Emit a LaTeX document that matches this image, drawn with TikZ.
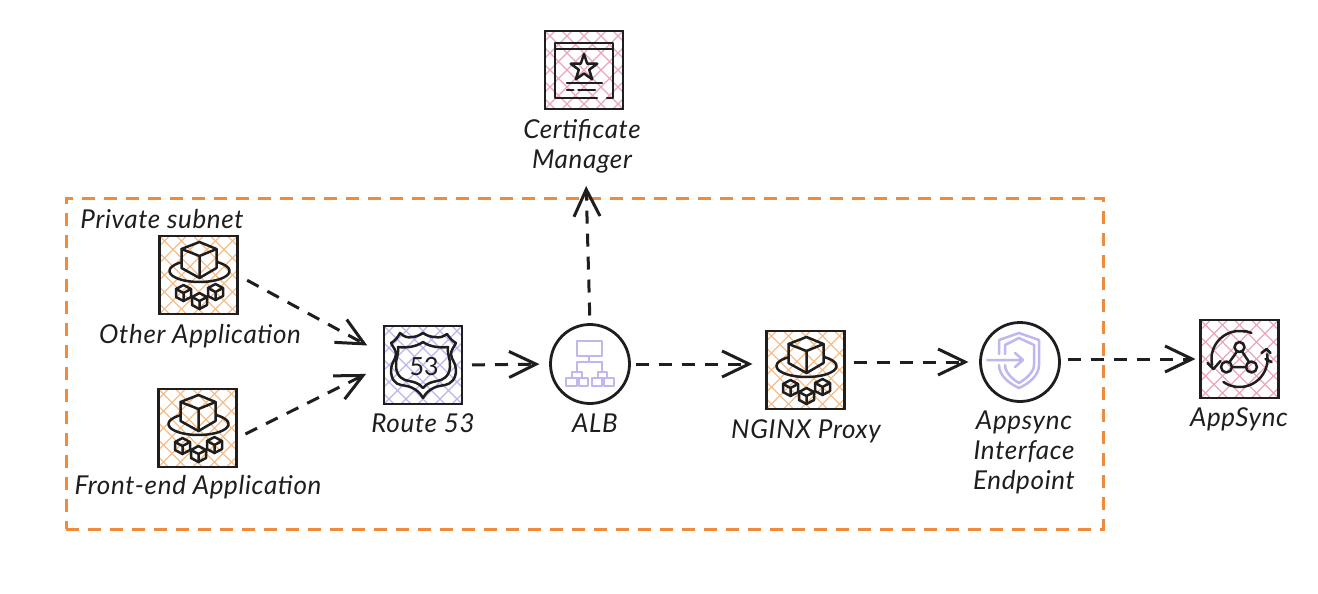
\documentclass[tikz,border=0pt]{standalone}
\usepackage{fontspec}
\setmainfont{Lato}[ItalicFeatures={LetterSpace=2.5}]
\usetikzlibrary{arrows.meta,calc}
\definecolor{ink}{HTML}{1E1E1E}
\definecolor{hatchorange}{HTML}{F6BE8A}
\definecolor{hatchpink}{HTML}{E9A6BD}
\definecolor{hatchpurple}{HTML}{BDB4EE}
\definecolor{subnetorange}{HTML}{EF8B3A}
\definecolor{iconpurple}{HTML}{C2B6EE}
\tikzset{
  x=1pt,y=-1pt,
  awsbox/.style={draw=ink,line width=2.95pt,minimum size=78pt,inner sep=0pt,outer sep=0pt,
    path picture={\begin{scope}[shift={(path picture bounding box.center)},draw=#1,line width=1.2pt]
      \foreach \i in {-102,-85,...,102}{
        \draw (\i-45,-45)--(\i+45,45);
        \draw (\i-45,45)--(\i+45,-45);
      }\end{scope}}},
  roundbox/.style={draw=ink,line width=2.8pt,circle,minimum size=79pt,inner sep=0pt,outer sep=0pt},
  lbl/.style={font=\fontsize{26}{30}\selectfont\itshape,align=center,inner sep=0pt,text=ink},
  flow/.style={draw=ink,line width=3pt,dash pattern=on 13pt off 10pt,
    -{Straight Barb[length=27pt,width=26pt,line width=3pt]}},
  iconline/.style={draw=ink,line width=2.5pt,line join=round,line cap=round},
  purpleline/.style={draw=iconpurple,line width=2.5pt,line join=round,line cap=round},
  smallcube/.pic={
    \draw[iconline] (0,-8)--(7.5,-4)--(7.5,4)--(0,8)--(-7.5,4)--(-7.5,-4)--cycle;
    \draw[iconline] (-7.5,-4)--(0,0)--(7.5,-4) (0,0)--(0,8);
  },
  appicon/.pic={
    \draw[iconline] plot[smooth,samples=30,domain=-53:233] ({1+30*cos(\x)},{-4+11*sin(\x)});
    \draw[iconline] (1,-33)--(18,-26)--(18,-7)--(1,3)--(-17,-7)--(-17,-26)--cycle;
    \draw[iconline] (-17,-26)--(1,-19)--(18,-26) (1,-19)--(1,3);
    \pic at (-15,18) {smallcube};
    \pic at (17,17) {smallcube};
    \pic at (1,26) {smallcube};
  },
  certicon/.pic={
    \draw[iconline] (13,28)--(-29,28)--(-29,-27)--(29,-27)--(29,28)--(23,28);
    \draw[iconline] (-29,-21)--(29,-21);
    \draw[iconline] (0,-16)--(3.2,-6.4)--(13.3,-6.3)--(5.2,-0.3)--(8.2,9.3)--(0,3.5)--(-8.2,9.3)--(-5.2,-0.3)--(-13.3,-6.3)--(-3.2,-6.4)--cycle;
    \draw[iconline] (-17,13)--(18,13) (-17,20)--(-10.6,20) (-5.6,20)--(11,20);
  },
  shieldicon/.pic={
    \draw[iconline] (-32,-22) .. controls (-28,-24) and (-25,-28) .. (-23,-32) .. controls (-19,-28) and (-15,-27) .. (-11,-28) .. controls (-7,-28) and (-3,-30) .. (0,-32) .. controls (3,-30) and (7,-28) .. (12,-28) .. controls (16,-27) and (20,-28) .. (24,-31) .. controls (26,-28) and (29,-24) .. (33,-22) .. controls (31,-18) and (28,-15) .. (28,-11) .. controls (28,-6) and (33,-2) .. (33,5) .. controls (33,14) and (28,19) .. (22,20) .. controls (16,21) and (6,22) .. (0,33) .. controls (-6,22) and (-16,21) .. (-22,20) .. controls (-28,19) and (-32,14) .. (-32,5) .. controls (-32,-2) and (-27,-6) .. (-27,-11) .. controls (-27,-15) and (-30,-18) .. (-32,-22) -- cycle;
    \draw[iconline] (-25,-18) .. controls (-17,-17) and (-7,-18) .. (0,-23) .. controls (7,-18) and (17,-17) .. (25,-18) .. controls (24,-10) and (28,-5) .. (27,2) .. controls (26,12) and (20,15) .. (14,16) .. controls (9,17) and (4,18) .. (0,23) .. controls (-4,18) and (-9,17) .. (-14,16) .. controls (-20,15) and (-26,12) .. (-27,2) .. controls (-28,-5) and (-24,-10) .. (-25,-18) -- cycle;
    \node[inner sep=0pt,font=\fontsize{25}{25}\selectfont,text=ink] (shieldnum) at (1,2) {53};
  },
  albicon/.pic={
    \draw[purpleline] (-13,-23) rectangle (12,-8);
    \draw[purpleline] (-1,-8)--(-1,-2) (-13,-2)--(12,-2) (-13,-2)--(-13,8) (12,-2)--(12,8);
    \draw[purpleline] (-18,8) rectangle (-8,14) (8,8) rectangle (17,14);
    \draw[purpleline] (-24,14) rectangle (-13,22) (-11,14) rectangle (-2,22) (2,14) rectangle (12,22) (14,14) rectangle (24,22);
  },
  endpointicon/.pic={
    \draw[purpleline] (-21,-8)--(-21,-22)--(-1,-29)--(19,-22)--(19,3) .. controls (19,14) and (8,22) .. (-1,26) .. controls (-10,22) and (-21,14) .. (-21,3);
    \draw[purpleline] (-15,-8)--(-15,-17)--(-1,-24)--(14,-17)--(14,3) .. controls (14,10) and (6,17) .. (-1,21) .. controls (-8,17) and (-15,10) .. (-15,3);
    \draw[purpleline] (-33,-2)--(3,-2) (-5,-9)--(3,-2)--(-5,5);
  },
  syncicon/.pic={
    \draw[iconline] (0,-12) circle (5) (-13,8) circle (5.5) (12,8) circle (5.5);
    \draw[iconline] (-2.5,-7.5)--(-10,3) (2.5,-7.5)--(9.5,3) (-7.5,8)--(6.5,8);
    \draw[iconline] plot[smooth,samples=30,domain=-78:-192] ({28*cos(\x)},{28*sin(\x)});
    \draw[iconline] (-32,4)--(-26,10)--(-19,2);
    \draw[iconline] (6,-28)--(12,-26);
    \draw[iconline] plot[smooth,samples=30,domain=125:-10] ({28*cos(\x)},{28*sin(\x)});
    \draw[iconline] (22,-6)--(27,-10)--(31,-6);
    \draw[iconline] (26,0)--(32,3);
  },
}
\begin{document}
\begin{tikzpicture}
\useasboundingbox (0,0) rectangle (1318,594);
\fill[white] (0,0) rectangle (1318,594);

\node[draw=subnetorange,line width=3pt,dash pattern=on 13pt off 9pt,minimum width=1037pt,minimum height=331pt,inner sep=0pt] (subnet) at (584.5,363.5) {};
\node[lbl,anchor=center] (subnetlabel) at (162,219) {Private subnet};

\node[awsbox=hatchpink] (cert) at (584,70) {};
\node[awsbox=hatchorange] (oa) at (198.5,275) {};
\node[awsbox=hatchorange] (fe) at (197.5,428) {};
\node[awsbox=hatchpurple] (r53) at (423,365) {};
\node[roundbox] (alb) at (590,364) {};
\node[awsbox=hatchorange] (nginx) at (805.5,370) {};
\node[roundbox] (vpce) at (1020,362) {};
\node[awsbox=hatchpink] (sync) at (1239.5,359) {};

\pic at (cert) {certicon};
\pic at (oa) {appicon};
\pic at (fe) {appicon};
\pic at (r53) {shieldicon};
\pic at (alb) {albicon};
\pic at (nginx) {appicon};
\pic at (vpce) {endpointicon};
\pic at (sync) {syncicon};

\node[lbl] (certlabel) at (582,146) {Certificate\\Manager};
\node[lbl] (oalabel) at (200,336) {Other Application};
\node[lbl] (felabel) at (198,487) {Front-end Application};
\node[lbl] (r53label) at (423,423) {Route 53};
\node[lbl] (alblabel) at (595,423) {ALB};
\node[lbl] (nginxlabel) at (806,431) {NGINX Proxy};
\node[lbl] (vpcelabel) at (1024,452) {Appsync\\Interface\\Endpoint};
\node[lbl] (synclabel) at (1239,419) {AppSync};

\draw[flow,shorten <=11pt,shorten >=19pt] (oa.east) -- (r53.165);
\draw[flow,shorten <=10pt,shorten >=20pt] (fe.-15) -- (r53.west);
\draw[flow,shorten <=10pt,shorten >=11pt] (r53.east) -- (alb.west);
\draw[flow,shorten <=6pt,shorten >=14pt] (alb.east) -- (alb.east -| nginx.west);
\draw[flow,shorten <=9pt,shorten >=12pt] (nginx.east |- vpce.west) -- (vpce.west);
\draw[flow,shorten <=8pt,shorten >=5pt] (vpce.east |- sync.west) -- (sync.west);
\draw[flow,shorten <=9pt,shorten >=77pt] (alb.north) -- (cert.south);
\end{tikzpicture}
\end{document}
